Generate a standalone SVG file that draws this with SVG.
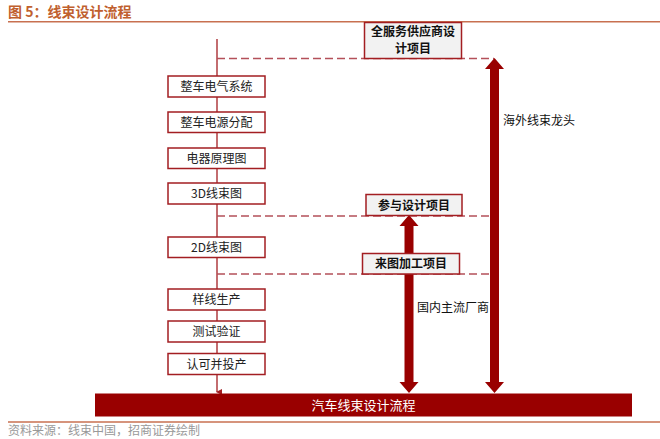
<svg xmlns="http://www.w3.org/2000/svg" width="660" height="439" viewBox="0 0 660 439">
<style>
.t{font-family:"Noto Sans CJK SC","Liberation Sans",sans-serif;}
.box{fill:#ffffff;stroke:#a31e22;stroke-width:1.5;}
.rbox{fill:#f2f2f2;stroke:#a31e22;stroke-width:1.5;}
.bt{font-size:12px;fill:#222;text-anchor:middle;}
.rt{font-size:12px;fill:#111;text-anchor:middle;font-weight:bold;}
.dash{stroke:#b4505a;stroke-width:1.6;stroke-dasharray:8,4;fill:none;}
.arr{fill:#990000;}
</style>
<defs>
<marker id="sm" markerWidth="6" markerHeight="6" refX="3" refY="5" orient="auto" markerUnits="userSpaceOnUse">
<path d="M0,0 L6,0 L3,6 Z" fill="#a31e22"/>
</marker>
</defs>
<rect width="660" height="439" fill="#ffffff"/>
<g id="header">
<text class="t" x="8" y="17" font-size="14" font-weight="bold" fill="#c0602e">图 5：线束设计流程</text>
<line x1="8" y1="21.7" x2="660" y2="21.7" stroke="#c87050" stroke-width="1.5"/>
</g>
<g id="connectors">
<line x1="217" y1="39" x2="217" y2="392" stroke="#a31e22" stroke-width="1.3" marker-end="url(#sm)"/>
<line class="dash" x1="217" y1="58.5" x2="494" y2="58.5"/>
<line class="dash" x1="217" y1="216" x2="494" y2="216"/>
<line class="dash" x1="217" y1="274" x2="494" y2="274"/>
<polygon class="arr" points="494.5,58 504,69 499,69 499,382 504,382 494.5,393 485,382 490,382 490,69 485,69"/>
<polygon class="arr" points="409,215 418.5,226 413.5,226 413.5,382 418.5,382 409,393 399.5,382 404.5,382 404.5,226 399.5,226"/>
</g>
<g id="n1"><rect class="box" x="168" y="76" width="97" height="21"/><text class="t bt" x="216.5" y="91">整车电气系统</text></g>
<g id="n2"><rect class="box" x="168" y="112" width="97" height="20.5"/><text class="t bt" x="216.5" y="126.5">整车电源分配</text></g>
<g id="n3"><rect class="box" x="168" y="148" width="97" height="20.5"/><text class="t bt" x="216.5" y="162.5">电器原理图</text></g>
<g id="n4"><rect class="box" x="168" y="183" width="97" height="21"/><text class="t bt" x="216.5" y="198">3D线束图</text></g>
<g id="n5"><rect class="box" x="168" y="237" width="97" height="20.5"/><text class="t bt" x="216.5" y="251.5">2D线束图</text></g>
<g id="n6"><rect class="box" x="168" y="289" width="97" height="21"/><text class="t bt" x="216.5" y="304">样线生产</text></g>
<g id="n7"><rect class="box" x="168" y="321" width="97" height="21"/><text class="t bt" x="216.5" y="336">测试验证</text></g>
<g id="n8"><rect class="box" x="168" y="353.5" width="97" height="21"/><text class="t bt" x="216.5" y="368.5">认可并投产</text></g>
<g id="r1"><rect class="rbox" x="364.5" y="22.5" width="97" height="36"/><text class="t rt" x="413" y="35.5"><tspan x="413" y="35.5">全服务供应商设</tspan><tspan x="413" y="53">计项目</tspan></text></g>
<g id="r2"><rect class="rbox" x="366" y="194.5" width="96" height="21"/><text class="t rt" x="414" y="209.5">参与设计项目</text></g>
<g id="r3"><rect class="rbox" x="362.5" y="253.5" width="97" height="20.5"/><text class="t rt" x="411" y="268">来图加工项目</text></g>
<g id="labels">
<text class="t" x="503" y="125" font-size="12" fill="#111">海外线束龙头</text>
<text class="t" x="417" y="312" font-size="12" fill="#111">国内主流厂商</text>
</g>
<g id="bar">
<rect x="95" y="393.5" width="537" height="23" fill="#990000"/>
<text class="t" x="363.5" y="410" font-size="13" fill="#ffffff" text-anchor="middle">汽车线束设计流程</text>
</g>
<g id="footer">
<line x1="8" y1="422" x2="660" y2="422" stroke="#c87050" stroke-width="1.3"/>
<text class="t" x="8" y="435" font-size="12" fill="#999">资料来源：线束中国，招商证券绘制</text>
</g>
</svg>
